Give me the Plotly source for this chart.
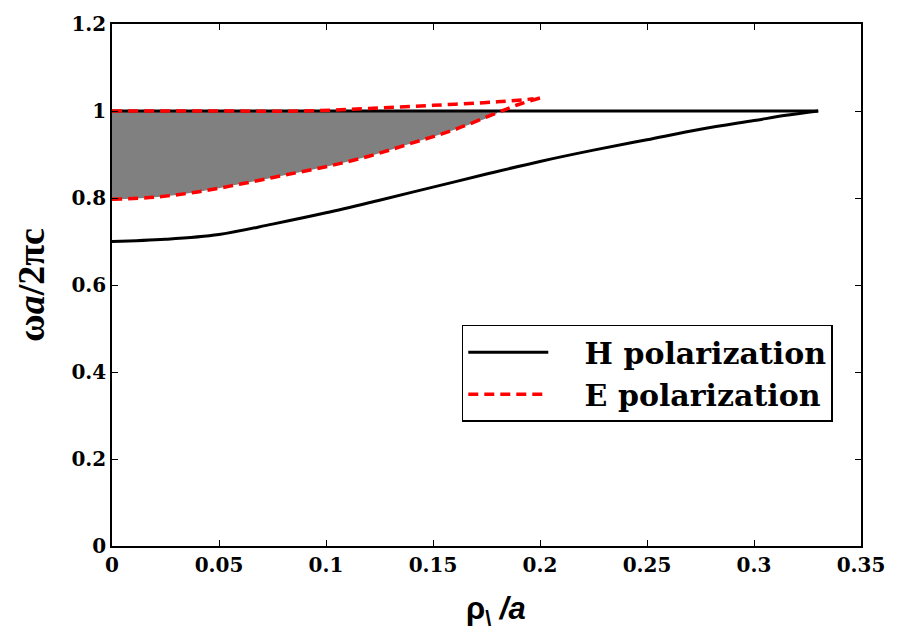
import plotly.graph_objects as go

# ---- data ----
h_x = [0, 0.025, 0.05, 0.075, 0.1, 0.125, 0.15, 0.175, 0.2, 0.225, 0.25, 0.275, 0.3, 0.315, 0.33]
h_lower = [0.700, 0.705, 0.716, 0.740, 0.766, 0.795, 0.825, 0.855, 0.884, 0.910, 0.934, 0.958, 0.978, 0.990, 1.0]
h_upper_x = [0, 0.33]
h_upper = [1.0, 1.0]

e_x = [0, 0.02, 0.04, 0.06, 0.08, 0.1, 0.12, 0.14, 0.16, 0.18, 0.19, 0.2]
e_lower = [0.797, 0.802, 0.814, 0.832, 0.852, 0.872, 0.896, 0.926, 0.957, 0.996, 1.015, 1.030]
e_upper_x = [0, 0.05, 0.09, 0.12, 0.15, 0.18, 0.197]
e_upper = [1.0, 1.0, 1.0, 1.006, 1.013, 1.021, 1.028]

gap_top = 1.0
x_ticks = [0, 0.05, 0.1, 0.15, 0.2, 0.25, 0.3, 0.35]
y_ticks = [0, 0.2, 0.4, 0.6, 0.8, 1.0, 1.2]

# ---- gap fill (between y=1 and E lower band edge) ----
n_gap = sum(1 for v in e_lower if v <= gap_top)
fill_x = e_x[:n_gap] + e_x[:n_gap][::-1]
fill_y = [gap_top] * n_gap + e_lower[:n_gap][::-1]

FONT = "DejaVu Serif"
PAD = "\u00a0\u00a0\u00a0"

fig = go.Figure()
fig.add_trace(go.Scatter(x=fill_x, y=fill_y, fill="toself", fillcolor="rgb(128,128,128)",
                         line=dict(width=0, shape="spline"), mode="lines", showlegend=False,
                         hoverinfo="skip"))
fig.add_trace(go.Scatter(x=h_x, y=h_lower, mode="lines",
                         line=dict(color="black", width=3, shape="spline"),
                         name=PAD + "H polarization"))
fig.add_trace(go.Scatter(x=h_upper_x, y=h_upper, mode="lines", line=dict(color="black", width=3),
                         showlegend=False))
fig.add_trace(go.Scatter(x=e_x, y=e_lower, mode="lines",
                         line=dict(color="red", width=3.5, dash="10px,6px", shape="spline"),
                         name=PAD + "E polarization"))
fig.add_trace(go.Scatter(x=e_upper_x, y=e_upper, mode="lines",
                         line=dict(color="red", width=3.5, dash="10px,6px", shape="spline"),
                         showlegend=False))

axis_common = dict(showgrid=False, zeroline=False, showline=True, linecolor="black", linewidth=1.5,
                   mirror="ticks", ticks="inside", ticklen=6, tickcolor="black",
                   tickfont=dict(family=FONT, size=20, color="black", weight="bold"))

fig.update_xaxes(range=[0, 0.35], tickvals=x_ticks, ticktext=[f"{v:g}" for v in x_ticks], **axis_common)
fig.update_yaxes(range=[0, 1.2], tickvals=y_ticks, ticktext=[f"{v:g}" for v in y_ticks], **axis_common)

fig.update_layout(
    width=897, height=634,
    margin=dict(l=112, r=35, t=18, b=88),
    paper_bgcolor="white", plot_bgcolor="white",
    legend=dict(x=0.467, y=0.424, xanchor="left", yanchor="top",
                bordercolor="black", borderwidth=1.5, bgcolor="white",
                font=dict(family=FONT, size=30, color="black", weight="bold"),
                itemwidth=80, tracegroupgap=0),
    annotations=[
        dict(text="ω<i>a</i>/2πc", xref="paper", yref="paper", x=-0.108, y=0.5,
             xanchor="center", yanchor="middle", textangle=-90, showarrow=False,
             font=dict(family="Liberation Serif", size=38, color="black", weight="bold")),
        dict(text="ρ<sub>\\</sub> <i>/a</i>", xref="paper", yref="paper", x=0.513, y=-0.125,
             xanchor="center", yanchor="middle", showarrow=False,
             font=dict(family="Liberation Sans", size=31, color="black", weight="bold")),
    ],
)

fig.write_html("out.html")
